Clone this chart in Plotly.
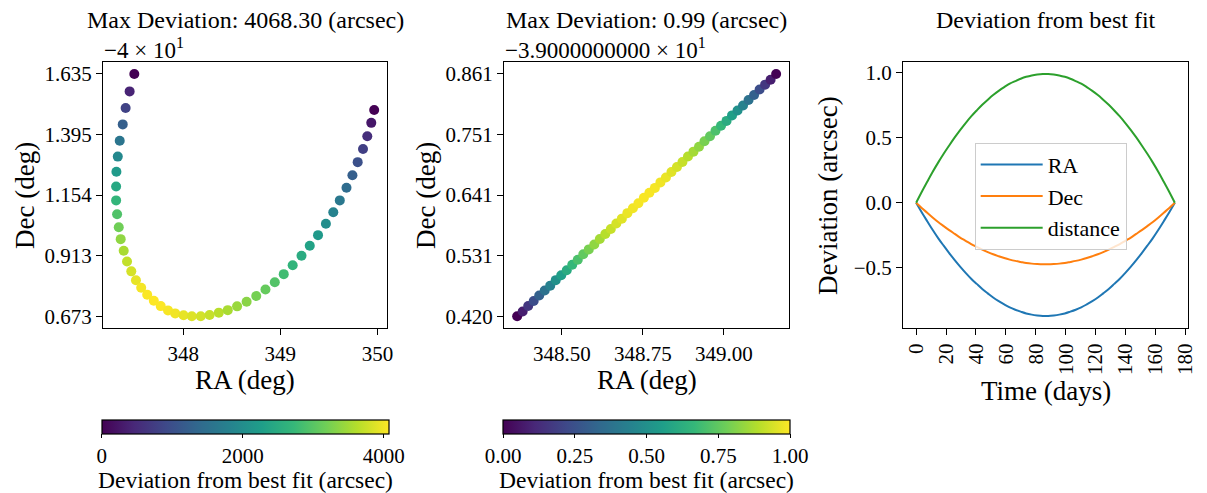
import numpy as np
import plotly.graph_objects as go

# ---------------- data ----------------
# Left panel: sky positions (deg) and deviation from best fit (arcsec)
RA1 = [347.497, 347.449, 347.408, 347.378, 347.347, 347.327, 347.313, 347.310, 347.310, 347.320,
       347.337, 347.357, 347.388, 347.422, 347.466, 347.514, 347.568, 347.630, 347.698, 347.769,
       347.844, 347.918, 348.004, 348.089, 348.181, 348.272, 348.367, 348.459, 348.555, 348.653,
       348.752, 348.847, 348.943, 349.035, 349.127, 349.218, 349.303, 349.388, 349.469, 349.545,
       349.612, 349.681, 349.742, 349.796, 349.851, 349.895, 349.936, 349.966]
DEC1 = [-38.3648, -38.434, -38.500, -38.565, -38.630, -38.693, -38.753, -38.812, -38.867, -38.922,
        -38.974, -39.021, -39.067, -39.110, -39.149, -39.184, -39.214, -39.242, -39.266, -39.287,
        -39.304, -39.316, -39.323, -39.3272, -39.327, -39.322, -39.313, -39.303, -39.288, -39.270,
        -39.247, -39.221, -39.192, -39.160, -39.125, -39.087, -39.047, -39.005, -38.960, -38.914,
        -38.867, -38.817, -38.767, -38.715, -38.663, -38.612, -38.559, -38.508]
DEV1 = [0, 410, 810, 1220, 1590, 1910, 2200, 2440, 2680, 2930,
        3170, 3380, 3540, 3700, 3820, 3930, 4010, 4050, 4068.3, 4060,
        4030, 3990, 3930, 3870, 3800, 3720, 3640, 3540, 3440, 3340,
        3210, 3090, 2950, 2810, 2660, 2500, 2340, 2180, 1990, 1810,
        1630, 1420, 1220, 1000, 770, 530, 260, 0]
DEC1_OFFSET = -40.0
CB1_MAX = 4068.3
CB1_TICKS = [0, 2000, 4000]

# Middle panel
RA2 = [348.362, 348.379, 348.396, 348.413, 348.430, 348.447, 348.464, 348.481, 348.498, 348.515,
       348.532, 348.549, 348.566, 348.583, 348.600, 348.617, 348.634, 348.651, 348.668, 348.685,
       348.702, 348.719, 348.736, 348.753, 348.770, 348.787, 348.804, 348.821, 348.838, 348.855,
       348.872, 348.889, 348.906, 348.923, 348.940, 348.957, 348.974, 348.991, 349.008, 349.025,
       349.042, 349.059, 349.076, 349.093, 349.110, 349.127, 349.144, 349.161]
DEC2 = [-38.5797, -38.571, -38.561, -38.552, -38.542, -38.533, -38.524, -38.514, -38.505, -38.496,
        -38.486, -38.477, -38.467, -38.458, -38.449, -38.439, -38.430, -38.421, -38.411, -38.402,
        -38.392, -38.383, -38.374, -38.364, -38.355, -38.346, -38.336, -38.327, -38.317, -38.308,
        -38.299, -38.289, -38.280, -38.271, -38.261, -38.252, -38.242, -38.233, -38.224, -38.214,
        -38.205, -38.196, -38.186, -38.177, -38.167, -38.158, -38.149, -38.1386]
DEC2_OFFSET = -39.0
CB2_MAX = 1.0
CB2_TICKS = [0.0, 0.25, 0.5, 0.75, 1.0]

# Right panel: deviation vs time
TIME = [0.0, 3.7, 7.4, 11.0, 14.7, 18.4, 22.1, 25.8, 29.4, 33.1, 36.8, 40.5, 44.2, 47.9, 51.5, 55.2,
        58.9, 62.6, 66.3, 69.9, 73.6, 77.3, 81.0, 84.7, 88.3, 92.0, 95.7, 99.4, 103.1, 106.7, 110.4,
        114.1, 117.8, 121.5, 125.1, 128.8, 132.5, 136.2, 139.9, 143.6, 147.2, 150.9, 154.6, 158.3,
        162.0, 165.6, 169.3, 173.0]
DEV_RA = [0.0, -0.073, -0.142, -0.208, -0.272, -0.331, -0.388, -0.442, -0.492, -0.540, -0.585, -0.625,
          -0.664, -0.698, -0.730, -0.758, -0.783, -0.806, -0.824, -0.839, -0.853, -0.862, -0.868, -0.872,
          -0.872, -0.868, -0.862, -0.853, -0.839, -0.824, -0.806, -0.783, -0.758, -0.730, -0.698, -0.664,
          -0.625, -0.585, -0.540, -0.492, -0.442, -0.388, -0.331, -0.272, -0.208, -0.142, -0.073, 0.0]
DEV_DEC = [0.0, -0.040, -0.077, -0.113, -0.148, -0.180, -0.211, -0.240, -0.268, -0.293, -0.318, -0.340,
           -0.361, -0.380, -0.397, -0.412, -0.426, -0.438, -0.448, -0.456, -0.464, -0.469, -0.472, -0.474,
           -0.474, -0.472, -0.469, -0.464, -0.456, -0.448, -0.438, -0.426, -0.412, -0.397, -0.380, -0.361,
           -0.340, -0.318, -0.293, -0.268, -0.240, -0.211, -0.180, -0.148, -0.113, -0.077, -0.040, 0.0]
DEV_DIST = [0.0, 0.083, 0.162, 0.237, 0.309, 0.377, 0.441, 0.503, 0.560, 0.614, 0.665, 0.711,
            0.755, 0.794, 0.830, 0.862, 0.891, 0.917, 0.937, 0.955, 0.970, 0.981, 0.988, 0.992,
            0.992, 0.988, 0.981, 0.970, 0.955, 0.937, 0.917, 0.891, 0.862, 0.830, 0.794, 0.755,
            0.711, 0.665, 0.614, 0.560, 0.503, 0.441, 0.377, 0.309, 0.237, 0.162, 0.083, 0.0]
TIME_TICKS = [0, 20, 40, 60, 80, 100, 120, 140, 160, 180]
DEV_TICKS = [-0.5, 0.0, 0.5, 1.0]

TITLES = ["Max Deviation: 4068.30 (arcsec)", "Max Deviation: 0.99 (arcsec)", "Deviation from best fit"]

# ---------------- layout helpers ----------------
W, H = 1207, 493
FONT = "Liberation Serif"


def px(x):
    return x / W


def py(y):
    return 1 - y / H


def pad(vals, frac=0.05):
    lo, hi = min(vals), max(vals)
    r = hi - lo
    return [lo - frac * r, hi + frac * r]


def fmt_minus(v, f):
    s = format(v, f)
    return s.replace("-", "\u2212")


fig = go.Figure()

y1 = [d - DEC1_OFFSET for d in DEC1]
y2 = [d - DEC2_OFFSET for d in DEC2]

cb_common = dict(orientation="h", thickness=14, xanchor="center", yanchor="top",
                 y=py(419.5), xpad=0, ypad=0, outlinecolor="black", outlinewidth=1.2,
                 ticks="outside", ticklen=4, tickwidth=1.2, tickcolor="black",
                 tickfont=dict(family=FONT, size=21, color="black"), lenmode="pixels", len=287)

fig.add_trace(go.Scatter(
    x=RA1, y=y1, mode="markers", xaxis="x", yaxis="y", showlegend=False,
    marker=dict(size=10, color=DEV1, colorscale="Viridis", cmin=0, cmax=CB1_MAX, showscale=True,
                line=dict(width=0),
                colorbar=dict(x=px(247), tickvals=CB1_TICKS, ticktext=[str(t) for t in CB1_TICKS],
                              **cb_common))))

fig.add_trace(go.Scatter(
    x=RA2, y=y2, mode="markers", xaxis="x2", yaxis="y2", showlegend=False,
    marker=dict(size=10, color=DEV_DIST, colorscale="Viridis", cmin=0, cmax=CB2_MAX, showscale=True,
                line=dict(width=0),
                colorbar=dict(x=px(651.5), tickvals=CB2_TICKS, ticktext=[f"{t:.2f}" for t in CB2_TICKS],
                              **cb_common))))

for name, vals, col in [("RA", DEV_RA, "#1f77b4"), ("Dec", DEV_DEC, "#ff7f0e"), ("distance", DEV_DIST, "#2ca02c")]:
    fig.add_trace(go.Scatter(x=TIME, y=vals, mode="lines", name=name, xaxis="x3", yaxis="y3",
                             line=dict(color=col, width=2, shape="spline", smoothing=1.0)))

ax = dict(showline=True, linecolor="black", linewidth=1.3, mirror=True, ticks="outside",
          ticklen=6, tickwidth=1.3, tickcolor="black", showgrid=False, zeroline=False,
          tickfont=dict(family=FONT, size=21, color="black"))

ydom = [py(328), py(61)]

yt1 = np.linspace(min(y1), max(y1), 5)
yt2 = np.linspace(min(y2), max(y2), 5)
xt2 = [348.5, 348.75, 349.0]

fig.update_layout(
    width=W, height=H, margin=dict(l=0, r=0, t=0, b=0), autosize=False,
    paper_bgcolor="white", plot_bgcolor="white",
    font=dict(family=FONT, color="black"),
    xaxis=dict(domain=[px(104), px(390)], range=pad(RA1), anchor="y", dtick=1, tick0=348, **ax),
    yaxis=dict(domain=ydom, range=pad(y1), anchor="x", tickvals=list(yt1),
               ticktext=[f"{v:.3f}" for v in yt1], **ax),
    xaxis2=dict(domain=[px(508), px(795)], range=pad(RA2), anchor="y2", tickvals=xt2,
                ticktext=[f"{v:.2f}" for v in xt2], **ax),
    yaxis2=dict(domain=ydom, range=pad(y2), anchor="x2", tickvals=list(yt2),
                ticktext=[f"{v:.3f}" for v in yt2], **ax),
    xaxis3=dict(domain=[px(910), px(1196.7)], range=pad(TIME), anchor="y3", tickvals=TIME_TICKS,
                ticktext=[str(t) for t in TIME_TICKS], tickangle=-90, **ax),
    yaxis3=dict(domain=[py(327.7), py(61)], range=pad(DEV_RA + DEV_DIST), anchor="x3",
                tickvals=DEV_TICKS, ticktext=[fmt_minus(t, ".1f") for t in DEV_TICKS], **ax),
    legend=dict(x=px(982), y=py(142), xanchor="left", yanchor="top",
                bgcolor="rgba(255,255,255,0.8)", bordercolor="#cccccc", borderwidth=1,
                font=dict(family=FONT, size=22, color="black"), itemwidth=62,
                tracegroupgap=0),
)

ann = []


def add_text(text, x, y, size, xanchor="center", yanchor="middle", angle=0):
    ann.append(dict(text=text, x=px(x), y=py(y), xref="paper", yref="paper", showarrow=False,
                    xanchor=xanchor, yanchor=yanchor, textangle=angle,
                    font=dict(family=FONT, size=size, color="black")))


# subplot titles
add_text(TITLES[0], 247, 19, 24)
add_text(TITLES[1], 651.5, 19, 24)
add_text(TITLES[2], 1053.5, 19, 24)
# offset texts
add_text(fmt_minus(DEC1_OFFSET / 10, "g") + " \u00d7 10<sup>1</sup>", 103, 48, 23, xanchor="left")
add_text(fmt_minus(DEC2_OFFSET / 10, ".10f") + " \u00d7 10<sup>1</sup>", 507, 48, 23, xanchor="left")
# axis titles
add_text("RA (deg)", 247, 380, 27)
add_text("RA (deg)", 651.5, 380, 27)
add_text("Time (days)", 1053.5, 391, 27)
add_text("Dec (deg)", 25, 194.5, 27, angle=-90)
add_text("Dec (deg)", 429, 194.5, 27, angle=-90)
add_text("Deviation (arcsec)", 834, 194.5, 27, angle=-90)
# colorbar labels
add_text("Deviation from best fit (arcsec)", 247, 480, 23.5)
add_text("Deviation from best fit (arcsec)", 651.5, 480, 23.5)

fig.update_layout(annotations=ann)

fig.write_html("out.html")
